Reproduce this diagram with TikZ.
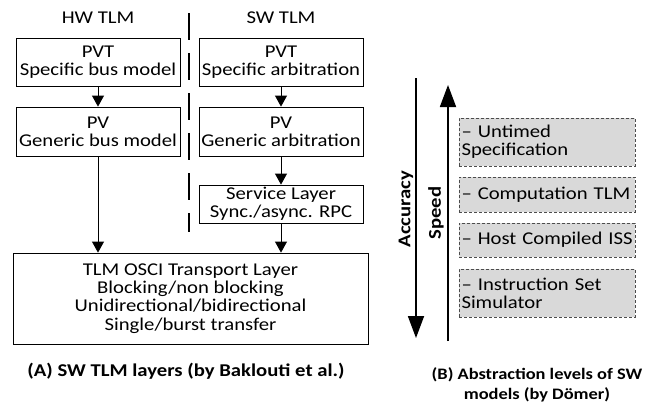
\documentclass[tikz,border=0pt]{standalone}
\usepackage{fontspec}
\setmainfont[FakeStretch=1.15]{Carlito}
\usetikzlibrary{arrows.meta}
\begin{document}
\begin{tikzpicture}[x=1pt,y=1pt,
  every node/.style={font=\fontsize{18}{18.3}\selectfont},
  lbox/.style={draw, line width=0.8pt, minimum width=164pt, align=center, inner sep=0pt},
  arr/.style={line width=0.8pt, -{Triangle[width=12pt,length=11pt]}},
  bigarr/.style={line width=1.8pt, -{Triangle[width=16pt,length=22pt]}},
  gbox/.style={draw=black!70, dashed, dash pattern=on 3pt off 2pt, line width=0.8pt, fill=black!15,
     minimum width=176pt, text width=171pt, align=left, inner xsep=2.5pt, inner ysep=0pt},
  captext/.style={font=\fontsize{18}{20}\selectfont\bfseries, align=center}]
\useasboundingbox (0,0) rectangle (649,-408);

% panel A
\node (hwt) at (98,-18) {HW TLM};
\node (swt) at (281,-18) {SW TLM};
\node[lbox, minimum height=48pt] (hwpvt) at (98,-62) {PVT\\Specific bus model};
\node[lbox, minimum height=49pt] (hwpv) at (98,-131.5) {PV\\Generic bus model};
\node[lbox, minimum height=48pt] (swpvt) at (281,-62) {PVT\\Specific arbitration};
\node[lbox, minimum height=49pt] (swpv) at (281,-131.5) {PV\\Generic arbitration};
\node[lbox, minimum height=38pt] (svc) at (281,-204) {Service Layer\\Sync./async. RPC};
\node[lbox, minimum width=355pt, minimum height=91pt] (tl) at (190.5,-298.5)
  {TLM OSCI Transport Layer\\Blocking/non blocking\\Unidirectional/bidirectional\\Single/burst transfer};
\draw[arr] (hwpvt) -- (hwpv);
\draw[arr] (swpvt) -- (swpv);
\draw[arr] (swpv) -- (svc);
\draw[arr] (hwpv.south) -- (hwpv.south |- tl.north);
\draw[arr] (svc.south) -- (svc.south |- tl.north);
\coordinate (d1) at (189,-13);
\coordinate (d2) at (189,-232);
\draw[line width=2.6pt, dash pattern=on 27pt off 13pt] (d1) -- (d2);
\node[captext] (capa) at (186,-371) {(A) SW TLM layers (by Baklouti et al.)};

% panel B
\coordinate (a1) at (416,-78);
\coordinate (a2) at (416,-338);
\coordinate (s1) at (448,-341);
\coordinate (s2) at (448,-85);
\draw[bigarr] (a1) -- (a2);
\draw[bigarr] (s1) -- (s2);
\node[rotate=90, font=\fontsize{18}{18}\selectfont\bfseries] (acc) at (406,-209) {Accuracy};
\node[rotate=90, font=\fontsize{18}{18}\selectfont\bfseries] (spd) at (436,-213) {Speed};
\node[gbox, minimum height=48pt] (g1) at (547,-142) {– Untimed\\Specification};
\node[gbox, minimum height=35pt] (g2) at (547,-194.5) {\mbox{– Computation TLM}};
\node[gbox, minimum height=34pt] (g3) at (547,-240) {\mbox{– Host Compiled ISS}};
\node[gbox, minimum height=48pt] (g4) at (547,-293) {– Instruction Set\\Simulator};
\node[captext, font=\fontsize{16}{20}\selectfont\bfseries] (capb) at (537,-385) {(B) Abstraction levels of SW\\models (by Dömer)};
\end{tikzpicture}
\end{document}
